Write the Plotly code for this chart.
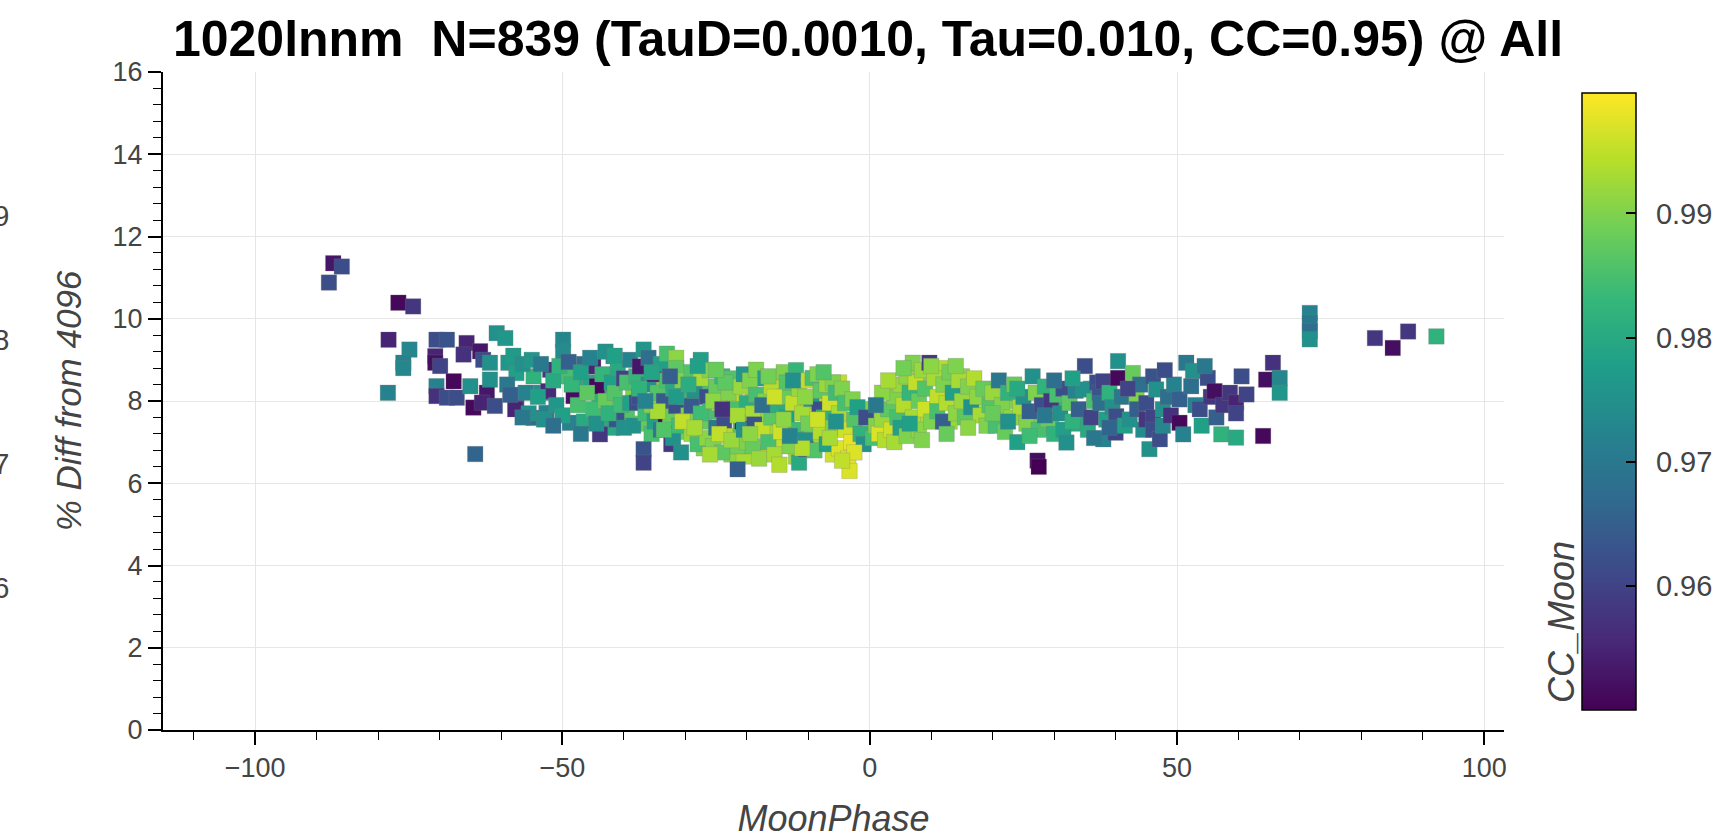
import plotly.graph_objects as go

FONT = "Liberation Sans, Arial, Helvetica, sans-serif"

# ---- data: (MoonPhase, % Diff from 4096, CC_Moon), grouped by phase region ----
pts_dense_fill = [
    (-44.0, 8.10, 0.982), (-42.0, 7.35, 0.980), (-39.5, 7.65, 0.986),
    (-38.5, 8.20, 0.990), (-37.0, 7.45, 0.988), (-35.5, 7.20, 0.985),
    (-34.0, 8.45, 0.990), (-33.0, 7.85, 0.992), (-31.0, 8.40, 0.986),
    (-30.0, 7.25, 0.989), (-29.0, 8.00, 0.994), (-27.5, 8.20, 0.991),
    (-27.0, 6.85, 0.990), (-26.0, 8.35, 0.985), (-25.0, 7.60, 0.994),
    (-23.5, 7.90, 0.992), (-22.5, 6.70, 0.991), (-22.0, 8.10, 0.994),
    (-20.5, 6.65, 0.993), (-19.0, 8.10, 0.995), (-18.0, 7.55, 0.992),
    (-17.0, 6.75, 0.996), (-16.0, 7.25, 0.993), (-15.0, 8.45, 0.990),
    (-14.5, 6.95, 0.995), (-13.0, 8.20, 0.993), (-12.0, 6.65, 0.992),
    (-11.5, 7.95, 0.990), (-10.0, 7.80, 0.996), (-9.5, 7.10, 0.992),
    (-8.5, 8.00, 0.994), (-7.0, 7.80, 0.991), (-6.0, 6.70, 0.996),
    (-5.0, 8.45, 0.995), (-3.5, 7.45, 0.997), (-2.0, 7.35, 0.995),
    (-1.0, 7.80, 0.990), (0.0, 7.30, 0.993), (1.5, 7.75, 0.994),
    (3.0, 7.15, 0.992), (4.5, 8.30, 0.995), (5.5, 7.60, 0.996),
    (7.0, 8.25, 0.994), (8.0, 8.55, 0.990), (9.5, 7.60, 0.993),
    (11.5, 8.80, 0.994), (13.0, 7.50, 0.992), (15.0, 8.60, 0.991),
    (17.0, 7.75, 0.993), (18.5, 8.00, 0.994), (21.0, 7.60, 0.992),
    (23.0, 8.00, 0.990), (25.0, 7.70, 0.992), (27.0, 7.60, 0.989),
    (29.5, 7.35, 0.986), (31.0, 8.05, 0.983), (34.0, 7.45, 0.980),
    (36.0, 8.30, 0.982), (-48.0, 8.45, 0.980), (-45.5, 8.45, 0.979),
    (-46.5, 8.90, 0.968), (-53.5, 8.20, 0.975),
]

pts_far_left = [
    (-88.0, 10.88, 0.962), (-87.3, 11.35, 0.953), (-85.9, 11.27, 0.962),
    (-76.7, 10.39, 0.951), (-74.3, 10.30, 0.958), (-78.3, 9.49, 0.955),
    (-74.9, 9.25, 0.973), (-75.9, 8.93, 0.972), (-75.9, 8.80, 0.973),
    (-78.4, 8.20, 0.972), (-70.5, 9.49, 0.962), (-68.8, 9.49, 0.963),
    (-70.7, 9.09, 0.955), (-70.7, 8.93, 0.952), (-69.9, 8.85, 0.960),
    (-70.5, 8.36, 0.972), (-70.5, 8.12, 0.957), (-68.8, 8.08, 0.962),
    (-67.2, 8.08, 0.962), (-67.7, 8.48, 0.951), (-65.6, 9.41, 0.955),
    (-66.1, 9.13, 0.957), (-63.4, 9.21, 0.953), (-62.9, 9.00, 0.962),
    (-65.0, 8.36, 0.975), (-62.3, 8.20, 0.953), (-64.5, 7.84, 0.951),
    (-63.1, 7.96, 0.955), (-61.0, 7.88, 0.962), (-64.2, 6.71, 0.966),
    (-60.7, 9.65, 0.975), (-61.8, 8.93, 0.975), (-61.8, 8.52, 0.975),
]

pts_60_40 = [
    (-59.3, 9.53, 0.976), (-58.8, 8.93, 0.976), (-57.5, 8.68, 0.978),
    (-57.5, 7.88, 0.962), (-57.7, 7.80, 0.955), (-54.7, 8.60, 0.982),
    (-54.7, 7.59, 0.968), (-52.0, 8.76, 0.958), (-52.3, 8.24, 0.956),
    (-52.6, 7.71, 0.972), (-49.9, 9.49, 0.973), (-49.9, 9.20, 0.974),
    (-49.3, 8.60, 0.985), (-48.8, 7.47, 0.972), (-48.2, 8.12, 0.952),
    (-43.9, 7.19, 0.958), (-45.0, 8.84, 0.955), (-44.4, 8.36, 0.951),
    (-41.7, 9.09, 0.975), (-41.2, 7.55, 0.963),
    (-59.0, 8.40, 0.970), (-58.0, 9.10, 0.977), (-56.5, 8.90, 0.975),
    (-56.0, 8.20, 0.972), (-55.5, 7.70, 0.975), (-55.0, 9.00, 0.976),
    (-54.0, 8.10, 0.978), (-53.5, 8.90, 0.970), (-53.0, 7.55, 0.975),
    (-51.5, 8.50, 0.980), (-51.0, 7.90, 0.976), (-50.5, 8.85, 0.982),
    (-50.0, 7.65, 0.978), (-49.0, 8.95, 0.965), (-48.5, 8.40, 0.983),
    (-47.5, 7.90, 0.985), (-47.0, 8.70, 0.978), (-46.5, 7.50, 0.980),
    (-46.0, 8.20, 0.987), (-45.5, 9.05, 0.972), (-45.0, 7.80, 0.984),
    (-44.5, 7.45, 0.975), (-43.5, 8.65, 0.983), (-43.0, 8.00, 0.988),
    (-42.5, 7.70, 0.982), (-42.0, 8.45, 0.978), (-41.5, 8.20, 0.986),
    (-41.0, 8.80, 0.980), (-40.5, 7.90, 0.984), (-40.0, 7.35, 0.975),
    (-40.0, 8.55, 0.960), (-47.0, 7.20, 0.970), (-51.5, 7.40, 0.968),
    (-56.5, 7.60, 0.970), (-58.5, 8.15, 0.965), (-43.0, 9.20, 0.975),
    (-41.5, 9.10, 0.978),
]

pts_40_20 = [
    (-39.5, 8.45, 0.985), (-39.0, 7.95, 0.978), (-39.0, 9.00, 0.972),
    (-38.5, 7.40, 0.975), (-38.0, 8.60, 0.983), (-37.9, 7.96, 0.962),
    (-37.4, 8.84, 0.953), (-36.8, 9.25, 0.976), (-36.8, 6.83, 0.963),
    (-36.8, 6.50, 0.960), (-37.5, 8.10, 0.962), (-36.5, 7.70, 0.984),
    (-36.0, 8.40, 0.975), (-36.0, 9.05, 0.968), (-35.5, 7.90, 0.990),
    (-35.0, 8.65, 0.955), (-35.0, 7.50, 0.978), (-34.5, 8.20, 0.986),
    (-34.0, 8.90, 0.978), (-34.0, 7.30, 0.970), (-33.5, 8.00, 0.964),
    (-33.2, 7.50, 0.951), (-33.0, 9.15, 0.985), (-33.0, 8.50, 0.985),
    (-32.5, 7.60, 0.988), (-32.3, 6.95, 0.958), (-32.0, 8.30, 0.980),
    (-32.0, 7.10, 0.975), (-31.5, 9.05, 0.991), (-31.5, 7.88, 0.962),
    (-31.5, 8.80, 0.987), (-31.0, 7.40, 0.984), (-30.7, 6.75, 0.975),
    (-30.5, 8.50, 0.990), (-30.0, 8.10, 0.983), (-29.5, 7.65, 0.990),
    (-29.0, 7.88, 0.964), (-29.0, 8.70, 0.986), (-29.0, 7.20, 0.992),
    (-28.5, 8.25, 0.975), (-28.0, 6.95, 0.985), (-27.5, 9.00, 0.978),
    (-27.5, 8.55, 0.993), (-27.0, 7.50, 0.988), (-26.5, 8.10, 0.962),
    (-26.5, 7.10, 0.991), (-26.0, 7.75, 0.985), (-26.0, 8.75, 0.990),
    (-25.5, 6.90, 0.990), (-25.0, 8.35, 0.988), (-25.0, 7.35, 0.970),
    (-24.5, 7.95, 0.993), (-24.0, 8.60, 0.983), (-24.0, 6.75, 0.987),
    (-23.7, 7.50, 0.962), (-23.0, 8.20, 0.990), (-23.0, 7.15, 0.994),
    (-22.5, 8.55, 0.986), (-21.5, 6.34, 0.965), (-22.0, 7.80, 0.985),
    (-21.5, 6.90, 0.989), (-21.0, 8.35, 0.992), (-21.0, 7.40, 0.986),
    (-20.7, 7.50, 0.951), (-20.5, 8.65, 0.976), (-20.0, 7.00, 0.990),
    (-20.0, 7.95, 0.981), (-37.5, 8.30, 0.982), (-35.5, 8.70, 0.979),
    (-33.5, 7.30, 0.986), (-31.5, 8.10, 0.977), (-29.5, 8.40, 0.981),
    (-27.5, 7.70, 0.984), (-25.5, 8.00, 0.991), (-23.5, 8.45, 0.987),
    (-21.5, 7.65, 0.993), (-34.5, 7.75, 0.993), (-30.5, 7.50, 0.995),
    (-28.5, 7.35, 0.993), (-26.0, 6.70, 0.993), (-24.5, 7.20, 0.995),
    (-22.5, 7.05, 0.992), (-36.5, 8.00, 0.972), (-32.5, 8.60, 0.965),
    (-28.0, 8.85, 0.978), (-24.0, 7.80, 0.957), (-20.5, 7.30, 0.975),
    (-25.0, 8.76, 0.988),
]

pts_20_0 = [
    (-19.5, 8.50, 0.990), (-19.0, 7.70, 0.993), (-19.0, 6.90, 0.988),
    (-18.8, 7.43, 0.963), (-18.5, 8.15, 0.985), (-18.5, 8.76, 0.990),
    (-18.0, 6.60, 0.992), (-17.5, 7.30, 0.995), (-17.0, 8.00, 0.990),
    (-17.0, 8.55, 0.978), (-16.5, 7.00, 0.985), (-16.0, 7.60, 0.987),
    (-16.0, 8.35, 0.994), (-15.5, 6.70, 0.993), (-15.0, 7.90, 0.981),
    (-14.7, 6.45, 0.994), (-14.5, 7.25, 0.996), (-14.0, 8.70, 0.990),
    (-14.0, 8.10, 0.988), (-13.5, 7.60, 0.978), (-13.5, 8.45, 0.986),
    (-13.0, 6.90, 0.990), (-12.5, 7.95, 0.995), (-12.0, 8.75, 0.983),
    (-12.0, 7.30, 0.984), (-11.5, 6.50, 0.980), (-11.5, 8.30, 0.992),
    (-11.0, 7.70, 0.993), (-10.5, 7.05, 0.975), (-10.4, 6.83, 0.963),
    (-10.0, 8.50, 0.995), (-10.0, 7.45, 0.989), (-9.5, 8.05, 0.977),
    (-9.3, 8.56, 0.985), (-9.0, 6.80, 0.986), (-8.2, 7.80, 0.962),
    (-8.5, 8.65, 0.990), (-8.0, 7.25, 0.994), (-8.0, 8.25, 0.987),
    (-7.5, 7.60, 0.982), (-7.0, 8.40, 0.992), (-7.0, 6.95, 0.978),
    (-6.5, 7.95, 0.996), (-6.0, 8.45, 0.990), (-6.0, 7.35, 0.990),
    (-5.5, 8.20, 0.984), (-5.0, 7.70, 0.993), (-5.0, 6.85, 0.997),
    (-4.5, 8.30, 0.990), (-4.0, 7.30, 0.996), (-4.0, 7.95, 0.985),
    (-3.5, 6.60, 0.998), (-3.3, 6.30, 0.997), (-3.0, 7.00, 0.998),
    (-2.8, 8.04, 0.990), (-2.5, 7.55, 0.986), (-2.0, 7.85, 0.978),
    (-1.5, 7.20, 0.982), (-0.6, 7.60, 0.962), (-1.0, 6.95, 0.975),
    (-19.5, 7.20, 0.991), (-17.5, 7.90, 0.968), (-16.5, 8.60, 0.989),
    (-14.0, 7.55, 0.991), (-12.5, 8.50, 0.975), (-10.5, 8.10, 0.991),
    (-8.5, 7.55, 0.996), (-6.5, 7.10, 0.993), (-5.5, 7.50, 0.975),
    (-11.0, 6.85, 0.994), (-15.5, 8.10, 0.996), (-7.5, 8.70, 0.986),
    (-13.0, 7.15, 0.972), (-2.5, 6.75, 0.997), (-4.5, 6.55, 0.995),
]

pts_0_20 = [
    (0.5, 7.10, 0.985), (1.0, 7.40, 0.990), (1.5, 7.20, 0.997),
    (2.0, 7.55, 0.992), (2.5, 7.05, 0.994), (3.0, 7.80, 0.987),
    (3.5, 7.30, 0.996), (4.0, 8.10, 0.990), (4.0, 7.00, 0.993),
    (4.5, 7.60, 0.985), (5.0, 8.40, 0.992), (5.0, 7.35, 0.978),
    (5.5, 7.90, 0.994), (6.0, 8.60, 0.991), (6.0, 7.15, 0.990),
    (6.5, 8.20, 0.983), (7.0, 8.93, 0.990), (7.0, 7.60, 0.993),
    (7.5, 8.45, 0.995), (8.0, 8.00, 0.988), (8.0, 7.30, 0.991),
    (8.5, 8.75, 0.992), (9.0, 7.80, 0.996), (9.0, 8.30, 0.986),
    (9.7, 8.93, 0.958), (10.0, 7.50, 0.990), (10.5, 8.55, 0.993),
    (11.0, 8.10, 0.995), (11.0, 7.75, 0.985), (11.9, 7.50, 0.965),
    (12.0, 8.40, 0.990), (12.5, 7.95, 0.994), (13.0, 8.70, 0.989),
    (13.5, 8.20, 0.978), (14.0, 7.70, 0.991), (14.5, 8.50, 0.993),
    (15.0, 8.00, 0.992), (15.5, 7.60, 0.987), (16.0, 8.35, 0.990),
    (16.5, 7.85, 0.975), (17.0, 8.55, 0.994), (17.5, 8.10, 0.991),
    (18.0, 7.65, 0.993), (18.5, 8.30, 0.988), (19.0, 7.40, 0.990),
    (19.5, 7.90, 0.986), (20.0, 8.20, 0.992), (2.0, 8.20, 0.991),
    (3.0, 8.50, 0.993), (5.5, 8.80, 0.989), (8.5, 7.05, 0.990),
    (10.0, 8.85, 0.991), (12.5, 7.20, 0.988), (14.0, 8.85, 0.990),
    (16.0, 7.35, 0.991), (1.0, 7.90, 0.970), (6.5, 7.45, 0.978),
]

pts_20_45 = [
    (20.5, 7.40, 0.985), (21.0, 8.50, 0.970), (21.5, 7.90, 0.990),
    (22.0, 7.25, 0.988), (22.5, 8.20, 0.982), (23.0, 7.60, 0.991),
    (23.5, 8.40, 0.988), (24.0, 7.00, 0.978), (24.5, 7.85, 0.993),
    (25.0, 8.10, 0.975), (25.5, 7.45, 0.990), (26.0, 7.75, 0.965),
    (26.5, 8.60, 0.975), (27.0, 8.20, 0.990), (27.5, 7.30, 0.985),
    (28.0, 7.90, 0.962), (28.5, 8.35, 0.982), (29.0, 7.55, 0.988),
    (29.5, 8.00, 0.958), (30.0, 7.20, 0.982), (30.5, 8.15, 0.985),
    (31.0, 7.70, 0.975), (31.5, 8.30, 0.962), (31.5, 7.30, 0.978),
    (32.0, 6.99, 0.975), (32.5, 7.95, 0.987), (33.0, 7.50, 0.982),
    (33.5, 8.25, 0.972), (34.0, 7.80, 0.965), (34.7, 8.28, 0.975),
    (35.0, 8.85, 0.962), (35.5, 7.30, 0.980), (36.0, 7.60, 0.960),
    (36.5, 8.00, 0.985), (37.0, 8.45, 0.962), (37.4, 8.20, 0.963),
    (37.5, 7.95, 0.968), (38.0, 8.48, 0.960), (38.0, 7.07, 0.972),
    (38.5, 7.55, 0.978), (39.0, 8.20, 0.982), (39.5, 7.85, 0.975),
    (40.1, 7.63, 0.962), (40.0, 7.23, 0.960), (40.4, 8.97, 0.975),
    (40.4, 8.56, 0.951), (41.0, 8.10, 0.970), (41.5, 7.40, 0.978),
    (42.3, 7.55, 0.975), (42.8, 8.68, 0.988), (43.4, 8.12, 0.990),
    (43.5, 7.80, 0.965), (44.0, 8.40, 0.968), (44.5, 7.30, 0.974),
    (45.0, 7.95, 0.962), (45.0, 7.55, 0.958), (20.0, 7.70, 0.988),
    (22.5, 7.50, 0.975), (24.0, 8.30, 0.980), (26.0, 7.15, 0.984),
    (28.5, 7.65, 0.970), (30.0, 8.50, 0.968), (33.0, 8.55, 0.978),
    (36.5, 7.10, 0.970), (39.0, 7.35, 0.966), (42.0, 8.30, 0.960),
    (27.3, 6.55, 0.952), (27.5, 6.40, 0.950),
]

pts_45_67 = [
    (45.5, 6.83, 0.975), (46.1, 8.60, 0.963), (46.6, 8.28, 0.975),
    (46.1, 7.60, 0.960), (46.1, 7.30, 0.962), (47.2, 7.07, 0.962),
    (47.7, 7.80, 0.975), (47.7, 7.40, 0.973), (48.5, 8.10, 0.968),
    (49.0, 7.65, 0.957), (49.5, 8.40, 0.972), (50.4, 8.04, 0.965),
    (50.4, 7.47, 0.951), (51.0, 7.19, 0.972), (51.5, 8.93, 0.970),
    (52.6, 8.73, 0.975), (52.3, 8.36, 0.968), (53.0, 7.90, 0.972),
    (53.7, 7.80, 0.962), (54.0, 7.40, 0.978), (55.0, 8.56, 0.962),
    (55.5, 8.10, 0.958), (56.1, 8.24, 0.952), (56.4, 7.60, 0.965),
    (57.2, 7.19, 0.982), (57.5, 7.90, 0.958), (58.6, 8.20, 0.958),
    (59.6, 7.96, 0.955), (59.6, 7.70, 0.960), (59.6, 7.11, 0.980),
    (60.5, 8.60, 0.962), (61.3, 8.16, 0.960), (64.0, 7.15, 0.951),
    (64.5, 8.52, 0.952), (65.6, 8.93, 0.957), (66.7, 8.56, 0.973),
    (66.7, 8.20, 0.976), (54.5, 8.85, 0.970), (48.0, 8.75, 0.962),
]

pts_far_right = [
    (71.6, 10.14, 0.972), (71.6, 9.90, 0.970), (71.6, 9.70, 0.968),
    (71.6, 9.50, 0.975), (82.2, 9.53, 0.958), (85.1, 9.29, 0.952),
    (87.6, 9.69, 0.958), (92.2, 9.57, 0.982),
]

all_pts = (pts_dense_fill + pts_far_left + pts_60_40 + pts_40_20 + pts_20_0
           + pts_0_20 + pts_20_45 + pts_45_67 + pts_far_right)
moon_phase = [p[0] for p in all_pts]
pct_diff = [p[1] for p in all_pts]
cc_moon = [p[2] for p in all_pts]

x_ticks = [-100, -50, 0, 50, 100]
y_ticks = [0, 2, 4, 6, 8, 10, 12, 14, 16]
cb_ticks = [0.96, 0.97, 0.98, 0.99]
cb_labels = ["0.96", "0.97", "0.98", "0.99"]
cb_min, cb_max = 0.950, 0.9997
title_text = "1020lnnm\u00a0 N=839 (TauD=0.0010, Tau=0.010, CC=0.95) @ All"

# ---- figure ----
W, H = 1726, 839
ML, MR, MT, MB = 163, 222, 72, 109
PW, PH = W - ML - MR, H - MT - MB

def px_x(px):
    return (px - ML) / PW

def px_y(py):
    return (H - MB - py) / PH

GAP = "<span style='color:rgba(0,0,0,0)'>ii</span>"

fig = go.Figure(go.Scatter(
    x=moon_phase, y=pct_diff, mode="markers", showlegend=False,
    marker=dict(
        symbol="square", size=15.5, color=cc_moon,
        colorscale="Viridis", cmin=cb_min, cmax=cb_max,
        line=dict(width=0.6, color="rgba(120,120,120,0.45)"),
        colorbar=dict(
            x=px_x(1582), xanchor="left", xpad=0,
            y=px_y(401.5), yanchor="middle", ypad=0,
            thickness=54, thicknessmode="pixels",
            len=617, lenmode="pixels",
            outlinewidth=1.5, outlinecolor="black",
            tickmode="array", tickvals=cb_ticks,
            ticktext=[GAP + t for t in cb_labels],
            ticks="inside", ticklen=10,
            tickwidth=1.5, tickcolor="black",
            tickfont=dict(family=FONT, size=29, color="#444"),
        ),
    ),
))

axis_common = dict(
    showline=True, linecolor="black", linewidth=2,
    ticks="outside", ticklen=13, tickwidth=1.5, tickcolor="black",
    showgrid=True, gridcolor="#e6e6e6", gridwidth=1,
    zeroline=False, mirror=False, automargin=False,
    tickfont=dict(family=FONT, size=27, color="#444"),
)

fig.update_xaxes(
    range=[-115, 103.2], tickvals=x_ticks,
    minor=dict(dtick=10, ticks="outside", ticklen=8, tickwidth=1.2,
               tickcolor="black", showgrid=False),
    title=dict(text="<i>MoonPhase</i>", standoff=25,
               font=dict(family=FONT, size=36, color="#444")),
    **axis_common,
)
fig.update_yaxes(
    range=[0, 16], tickvals=y_ticks,
    minor=dict(dtick=0.4, ticks="outside", ticklen=8, tickwidth=1.2,
               tickcolor="black", showgrid=False),
    title=dict(text="<i>% Diff from 4096</i>", standoff=20,
               font=dict(family=FONT, size=35, color="#444")),
    **axis_common,
)

annotations = [
    dict(text="<i>CC_Moon</i>", textangle=-90, xref="paper", yref="paper",
         x=px_x(1561), y=px_y(622), xanchor="center", yanchor="middle",
         showarrow=False, font=dict(family=FONT, size=36, color="#444")),
]
# clipped colorbar labels of the neighbouring panel at the left edge
for v, py in zip(["0.99", "0.98", "0.97", "0.96"], [216, 340, 464, 588]):
    annotations.append(dict(
        text=v, xref="paper", yref="paper", x=px_x(11), y=px_y(py),
        xanchor="right", yanchor="middle", showarrow=False,
        font=dict(family=FONT, size=29, color="#444")))

fig.update_layout(
    width=W, height=H, autosize=False,
    margin=dict(l=ML, r=MR, t=MT, b=MB, pad=0, autoexpand=False),
    paper_bgcolor="white", plot_bgcolor="white",
    title=dict(text="<b>" + title_text + "</b>", x=px_x(868), xref="paper",
               xanchor="center", y=1 - 38 / H, yref="container",
               yanchor="middle",
               font=dict(family=FONT, size=50, color="black")),
    annotations=annotations,
)

fig.write_html("out.html")
